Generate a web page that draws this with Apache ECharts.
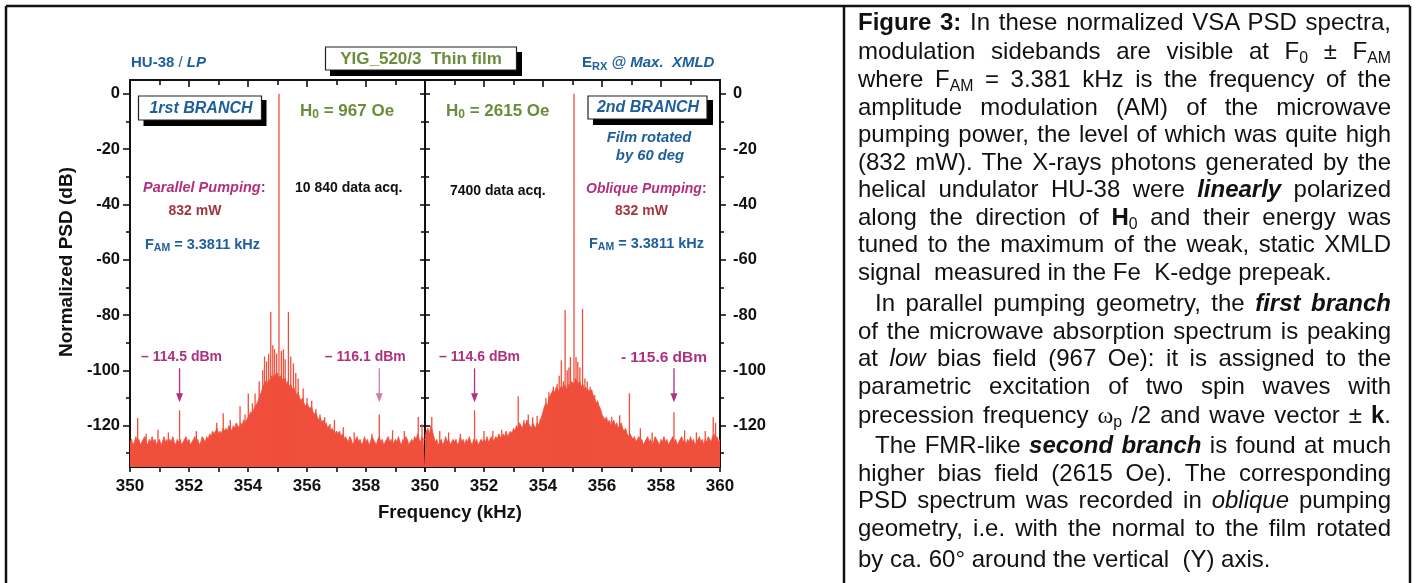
<!DOCTYPE html>
<html><head><meta charset="utf-8">
<script src="https://cdn.jsdelivr.net/npm/echarts@6/dist/echarts.min.js"></script>
<style>
html,body{margin:0;padding:0;background:#fff;}
#wrap{position:relative;width:1416px;height:583px;overflow:hidden;}
#chart{position:absolute;left:0;top:0;width:1416px;height:583px;}
#text{position:absolute;left:858px;top:0;width:533px;font-family:"Liberation Sans",Arial,Helvetica,sans-serif;font-size:24px;color:#111;}
.ln{position:absolute;left:0;width:533px;height:28px;line-height:28px;text-align:justify;text-align-last:justify;white-space:nowrap;}
.ln.last{text-align-last:left;}
.ln.ind{padding-left:17px;width:516px;}
.ln sub{font-size:0.66em;vertical-align:-0.28em;line-height:0;}
.om{font-family:"Liberation Serif","Times New Roman",serif;}
</style></head>
<body>
<div id="wrap">
<div id="chart"></div>
<div id="text">
<div class="ln" style="top:8px"><b>Figure 3:</b> In these normalized VSA PSD spectra,</div>
<div class="ln" style="top:37px">modulation sidebands are visible at F<sub>0</sub> ± F<sub>AM</sub></div>
<div class="ln" style="top:65px">where F<sub>AM</sub> = 3.381 kHz is the frequency of the</div>
<div class="ln" style="top:93px">amplitude modulation (AM) of the microwave</div>
<div class="ln" style="top:120px">pumping power, the level of which was quite high</div>
<div class="ln" style="top:148px">(832 mW). The X-rays photons generated by the</div>
<div class="ln" style="top:175px">helical undulator HU-38 were <b><i>linearly</i></b> polarized</div>
<div class="ln" style="top:203px">along the direction of <b>H</b><sub>0</sub> and their energy was</div>
<div class="ln" style="top:230px">tuned to the maximum of the weak, static XMLD</div>
<div class="ln last" style="top:258px">signal&nbsp; measured in the Fe&nbsp; K-edge prepeak.</div>
<div class="ln ind" style="top:289px">In parallel pumping geometry, the <b><i>first branch</i></b></div>
<div class="ln" style="top:317px">of the microwave absorption spectrum is peaking</div>
<div class="ln" style="top:344px">at <i>low</i> bias field (967 Oe): it is assigned to the</div>
<div class="ln" style="top:372px">parametric excitation of two spin waves with</div>
<div class="ln" style="top:401px">precession frequency <span class="om">ω</span><sub>p</sub> /2 and wave vector ± <b>k</b>.</div>
<div class="ln ind" style="top:431px">The FMR-like <b><i>second branch</i></b> is found at much</div>
<div class="ln" style="top:459px">higher bias field (2615 Oe). The corresponding</div>
<div class="ln" style="top:486px">PSD spectrum was recorded in <i>oblique</i> pumping</div>
<div class="ln" style="top:514px">geometry, i.e. with the normal to the film rotated</div>
<div class="ln last" style="top:545px">by ca. 60° around the vertical&nbsp; (Y) axis.</div>
</div>
</div>
<script>
// ---------------- DATA ----------------
const freqStart = 350;
const freqStep = 0.05;
// left panel (1st branch, H0 = 967 Oe): upper envelope of the noise / sideband cluster, dB
const leftLevels = [
 -126,-125,-127,-126,-124,-126,-125,-127,-126,-125,-124,-126,-127,-125,-126,-124,-126,-125,-127,-126,
 -125,-127,-126,-124,-126,-125,-127,-125,-126,-124,-126,-127,-125,-126,-125,-127,-126,-125,-124,-126,
 -125,-127,-126,-125,-124,-126,-125,-127,-126,-124,-125,-126,-124,-125,-123,-124,-122,-123,-122,-121,
 -123,-122,-123,-121,-122,-121,-122,-120,-121,-122,-120,-121,-119,-120,-121,-119,-120,-118,-119,-118,
 -117,-116,-115,-116,-114,-113,-112,-111,-109,-108,-106,-105,-104,-105,-103,-104,-102,-103,-101,-102,
 -101,-103,-102,-103,-104,-103,-105,-104,-106,-105,-107,-106,-108,-109,-108,-110,-111,-110,-112,-113,
 -112,-113,-114,-113,-115,-116,-115,-117,-118,-117,-119,-118,-120,-119,-121,-120,-122,-121,-122,-123,
 -122,-123,-122,-124,-123,-125,-124,-125,-126,-124,-125,-127,-126,-125,-124,-126,-125,-127,-126,-124,
 -126,-125,-127,-126,-124,-125,-126,-127,-125,-124,-126,-125,-127,-126,-125,-124,-126,-125,-127,-126,
 -125,-126,-124,-126,-127,-125,-126,-124,-125,-127,-126,-125,-126,-124,-125,-123,-125,-126,-124,-125,
 -125
];
// right panel (2nd branch, H0 = 2615 Oe)
const rightLevels = [
 -124,-122,-121,-123,-120,-122,-124,-126,-125,-127,-126,-125,-127,-126,-124,-126,-125,-127,-126,-125,
 -126,-125,-127,-126,-124,-126,-125,-127,-125,-126,-124,-126,-127,-125,-126,-125,-127,-126,-125,-126,
 -125,-126,-124,-126,-125,-124,-126,-125,-124,-125,-123,-124,-125,-123,-124,-122,-124,-123,-122,-123,
 -121,-122,-120,-121,-119,-120,-121,-119,-120,-118,-119,-120,-121,-119,-120,-121,-119,-120,-118,-117,
 -115,-113,-112,-113,-110,-109,-108,-107,-108,-106,-107,-108,-106,-107,-105,-106,-107,-105,-106,-104,
 -104,-105,-103,-104,-105,-104,-106,-105,-107,-106,-108,-107,-108,-107,-109,-110,-112,-111,-113,-114,
 -116,-117,-118,-117,-119,-118,-120,-119,-118,-120,-119,-121,-120,-119,-121,-122,-121,-123,-124,-123,
 -124,-125,-124,-126,-125,-124,-126,-125,-127,-126,-125,-124,-126,-125,-127,-126,-124,-125,-126,-127,
 -125,-126,-124,-126,-125,-127,-126,-125,-124,-126,-125,-127,-126,-125,-124,-126,-125,-127,-125,-126,
 -124,-126,-125,-127,-126,-125,-124,-126,-125,-127,-125,-126,-124,-125,-126,-124,-123,-125,-124,-126,
 -125
];
// discrete spectral lines [frequency kHz, level dB]
const leftSpikes = [
 [350.26,-117.3],[350.55,-123],[350.95,-121.5],[351.3,-122.5],[351.68,-114.5],[352.25,-122],
 [352.94,-119],[353.16,-115.6],[353.4,-118],
 [353.73,-113],[353.9,-116],[354.01,-108.4],[354.15,-112],[354.24,-108.4],[354.38,-104],
 [354.5,-100],[354.56,-95],[354.63,-96.8],[354.7,-94],[354.77,-78.9],[354.84,-91],[354.9,-92.4],
 [354.97,-94],[355.05,0],[355.13,-93],[355.2,-92.4],[355.26,-96],[355.37,-78.9],[355.45,-95],
 [355.54,-97.5],[355.62,-101],[355.7,-103],[355.87,-106.6],[356.0,-110],[356.16,-111],
 [356.3,-114],[356.44,-116],[356.6,-117],[356.78,-119.4],[356.93,-118],[357.23,-120.6],
 [357.6,-122.5],[358.2,-123],[358.45,-116],[358.9,-121.7],[359.3,-122],[359.77,-116.9],[359.9,-119.5]
];
const rightSpikes = [
 [350.23,-116.9],[350.5,-122],[350.8,-122.5],[351.2,-123],[351.68,-114.5],[352.0,-122],[352.3,-122],
 [352.6,-121.5],[353.16,-109.4],
 [353.35,-118],[353.5,-116],[353.65,-117],[353.8,-116.5],[354.1,-110],[354.2,-108],[354.35,-106],
 [354.48,-105],[354.55,-102],[354.62,-96.4],[354.69,-104],[354.75,-78.2],[354.82,-100],
 [354.88,-99],[354.93,-95.2],[355.05,0],[355.12,-95.2],[355.18,-97],[355.25,-99],[355.34,-77.8],
 [355.42,-103],[355.5,-104],[355.6,-106],[355.75,-109],[355.9,-113],[356.15,-117],[356.33,-116.8],
 [356.6,-116.3],[356.93,-108.3],[357.3,-121],[357.7,-122.5],[358.44,-115.2],[358.8,-121.8],
 [359.2,-122.5],[359.5,-122],[359.77,-117],[359.85,-119]
];
// sideband markers
const leftMarkerFreqs = [351.68, 358.45];
const leftMarkerLabels = ['– 114.5 dBm', '– 116.1 dBm'];
const rightMarkerFreqs = [351.68, 358.44];
const rightMarkerLabels = ['– 114.6 dBm', '- 115.6 dBm'];
// axes
const yTickValues = [0, -20, -40, -60, -80, -100, -120];
const yMinorValues = [-10, -30, -50, -70, -90, -110, -130];
const leftXLabels = [350, 352, 354, 356, 358];
const rightXLabels = [350, 352, 354, 356, 358, 360];
const yMin = -135, yMax = 5;

// ---------------- STYLE / BUILD ----------------
const RED = '#ef4f3b';
const AX = '#111';
const BLUE = '#1d5e9c';
const GREEN = '#6a8d3b';
const MAG = '#b0307f';
const DRED = '#a3363f';
const FONT = '"Liberation Sans", Arial, Helvetica, sans-serif';

const toPairs = arr => arr.map((v, i) => [+(freqStart + i * freqStep).toFixed(2), v]);

const chart = echarts.init(document.getElementById('chart'), null, {renderer: 'canvas'});

function xAx(grid, pos, labels) {
  const top = pos === 'top';
  return {
    type: 'value', gridIndex: grid, position: pos, min: 350, max: 360, interval: 2,
    axisLine: {show: true, onZero: false, lineStyle: {color: AX, width: 2}},
    axisTick: {show: true, inside: top, length: top ? 7 : 5, lineStyle: {color: AX, width: 1.6}},
    minorTick: {show: true, splitNumber: 2, length: 5, lineStyle: {color: AX, width: 1.6}},
    axisLabel: labels ? {show: true, customValues: labels, color: AX, fontSize: 17, fontWeight: 'bold', fontFamily: FONT, margin: 11} : {show: false},
    splitLine: {show: false}, minorSplitLine: {show: false}
  };
}
function yAx(grid, pos, inside, values, len, labels, margin) {
  return {
    type: 'value', gridIndex: grid, position: pos, min: yMin, max: yMax,
    axisLine: {show: true, onZero: false, lineStyle: {color: AX, width: 2}},
    axisTick: {show: true, inside: inside, length: len, customValues: values, lineStyle: {color: AX, width: 1.6}},
    axisLabel: labels ? {show: true, customValues: labels, color: AX, fontSize: 16.5, fontWeight: 'bold', fontFamily: FONT, margin: margin} : {show: false},
    splitLine: {show: false}
  };
}

function spikeRender(params, api) {
  const f = api.value(0);
  const p1 = api.coord([f, api.value(1)]);
  const p0 = api.coord([f, yMin]);
  return {type: 'line', shape: {x1: p0[0], y1: p0[1], x2: p1[0], y2: p1[1]},
    style: {stroke: RED, lineWidth: 1.3}};
}
function markerRender(labels, shifts, arrowColors, fontSizes) {
  return function (params, api) {
    const i = params.dataIndex;
    const f = api.value(0);
    const top = api.coord([f, -99.3]);
    const tip = api.coord([f, -111.6]);
    const c = arrowColors[i];
    return {type: 'group', children: [
      {type: 'line', shape: {x1: top[0], y1: top[1], x2: tip[0], y2: tip[1] - 6}, style: {stroke: c, lineWidth: 1.3}},
      {type: 'polygon', shape: {points: [[tip[0] - 3.5, tip[1] - 9], [tip[0] + 3.5, tip[1] - 9], [tip[0], tip[1]]]}, style: {fill: c}},
      {type: 'text', x: top[0] + shifts[i], y: top[1] - 11,
        style: {text: labels[i], fill: MAG, fontSize: fontSizes[i], fontWeight: 'bold', fontFamily: FONT, align: 'center', verticalAlign: 'middle'}}
    ]};
  };
}

const option = {
  animation: false,
  backgroundColor: '#fff',
  grid: [
    {left: 130, top: 80, width: 295, height: 387},
    {left: 425, top: 80, width: 295, height: 387}
  ],
  xAxis: [
    xAx(0, 'bottom', leftXLabels), xAx(0, 'top', null),
    xAx(1, 'bottom', rightXLabels), xAx(1, 'top', null)
  ],
  yAxis: [
    yAx(0, 'left', false, yTickValues, 7, yTickValues, 10),
    yAx(0, 'left', false, yMinorValues, 4, null),
    yAx(0, 'right', true, yTickValues, 5, null),
    yAx(0, 'right', true, yMinorValues, 4, null),
    yAx(1, 'left', true, yTickValues, 5, null),
    yAx(1, 'left', true, yMinorValues, 4, null),
    yAx(1, 'right', false, yTickValues, 6, yTickValues, 13),
    yAx(1, 'right', false, yMinorValues, 4, null)
  ],
  series: [
    {type: 'line', xAxisIndex: 0, yAxisIndex: 0, data: toPairs(leftLevels), showSymbol: false, silent: true,
      lineStyle: {color: RED, width: 0.8}, areaStyle: {color: RED, opacity: 1, origin: 'start'}, z: 2},
    {type: 'line', xAxisIndex: 2, yAxisIndex: 4, data: toPairs(rightLevels), showSymbol: false, silent: true,
      lineStyle: {color: RED, width: 0.8}, areaStyle: {color: RED, opacity: 1, origin: 'start'}, z: 2},
    {type: 'custom', xAxisIndex: 0, yAxisIndex: 0, data: leftSpikes, renderItem: spikeRender, clip: true, silent: true, z: 3},
    {type: 'custom', xAxisIndex: 2, yAxisIndex: 4, data: rightSpikes, renderItem: spikeRender, clip: true, silent: true, z: 3},
    {type: 'custom', xAxisIndex: 0, yAxisIndex: 0, data: leftMarkerFreqs.map(f => [f]), silent: true, z: 5,
      renderItem: markerRender(leftMarkerLabels, [2, -14], [MAG, '#d17ab0'], [14, 14])},
    {type: 'custom', xAxisIndex: 2, yAxisIndex: 4, data: rightMarkerFreqs.map(f => [f]), silent: true, z: 5,
      renderItem: markerRender(rightMarkerLabels, [5, -10], [MAG, MAG], [14, 15.5])}
  ],
  graphic: [
    // frame
    {type: 'line', shape: {x1: 6, y1: 6, x2: 1410, y2: 6}, style: {stroke: AX, lineWidth: 2.5}, z: 100},
    {type: 'line', shape: {x1: 6, y1: 6, x2: 6, y2: 583}, style: {stroke: AX, lineWidth: 2.5}, z: 100},
    {type: 'line', shape: {x1: 844, y1: 6, x2: 844, y2: 583}, style: {stroke: AX, lineWidth: 2.5}, z: 100},
    {type: 'line', shape: {x1: 1410, y1: 6, x2: 1410, y2: 583}, style: {stroke: AX, lineWidth: 2.5}, z: 100},
    // boxes with shadows
    {type: 'rect', shape: {x: 330, y: 52, width: 192, height: 24}, style: {fill: '#000'}, z: 100},
    {type: 'rect', shape: {x: 325.5, y: 47, width: 191, height: 23}, style: {fill: '#fff', stroke: '#222', lineWidth: 1.2}, z: 101},
    {type: 'text', x: 421, y: 59, style: {text: 'YIG_520/3  Thin film', fill: GREEN, fontSize: 17, fontWeight: 'bold', fontFamily: FONT, align: 'center', verticalAlign: 'middle'}, z: 102},
    {type: 'rect', shape: {x: 143.5, y: 100, width: 123, height: 26}, style: {fill: '#000'}, z: 100},
    {type: 'rect', shape: {x: 138.5, y: 96, width: 123, height: 24}, style: {fill: '#fff', stroke: '#222', lineWidth: 1.2}, z: 101},
    {type: 'text', x: 201, y: 108.5, style: {text: '1rst BRANCH', fill: BLUE, fontSize: 16, fontWeight: 'bold', fontStyle: 'italic', fontFamily: FONT, align: 'center', verticalAlign: 'middle'}, z: 102},
    {type: 'rect', shape: {x: 593, y: 100, width: 120, height: 25}, style: {fill: '#000'}, z: 100},
    {type: 'rect', shape: {x: 588, y: 96, width: 119, height: 23}, style: {fill: '#fff', stroke: '#222', lineWidth: 1.2}, z: 101},
    {type: 'text', x: 648, y: 107.5, style: {text: '2nd BRANCH', fill: BLUE, fontSize: 16, fontWeight: 'bold', fontStyle: 'italic', fontFamily: FONT, align: 'center', verticalAlign: 'middle'}, z: 102},
    // headers
    {type: 'text', x: 131, y: 63, z: 102, style: {text: '{b|HU-38 }{n|/ }{bi|LP}', fill: BLUE, align: 'left', verticalAlign: 'middle',
      rich: {b: {fontSize: 15, fontWeight: 'bold', fontFamily: FONT, fill: BLUE}, n: {fontSize: 15, fontFamily: FONT, fill: BLUE}, bi: {fontSize: 15, fontWeight: 'bold', fontStyle: 'italic', fontFamily: FONT, fill: BLUE}}}},
    {type: 'text', x: 582, y: 63, z: 102, style: {text: '{b|E}{s|RX}{bi| @ Max.  XMLD}', fill: BLUE, align: 'left', verticalAlign: 'middle',
      rich: {b: {fontSize: 15, fontWeight: 'bold', fontFamily: FONT, fill: BLUE, lineHeight: 18}, s: {fontSize: 11, fontWeight: 'bold', fontFamily: FONT, fill: BLUE, lineHeight: 8, verticalAlign: 'bottom'}, bi: {fontSize: 15, fontWeight: 'bold', fontStyle: 'italic', fontFamily: FONT, fill: BLUE, lineHeight: 18}}}},
    // H0 labels
    {type: 'text', x: 300, y: 111, z: 102, style: {text: '{m|H}{s|0}{m| = 967 Oe}', align: 'left', verticalAlign: 'middle',
      rich: {m: {fontSize: 17, fontWeight: 'bold', fontFamily: FONT, fill: GREEN, lineHeight: 20}, s: {fontSize: 12, fontWeight: 'bold', fontFamily: FONT, fill: GREEN, lineHeight: 8, verticalAlign: 'bottom'}}}},
    {type: 'text', x: 446, y: 111, z: 102, style: {text: '{m|H}{s|0}{m| = 2615 Oe}', align: 'left', verticalAlign: 'middle',
      rich: {m: {fontSize: 17, fontWeight: 'bold', fontFamily: FONT, fill: GREEN, lineHeight: 20}, s: {fontSize: 12, fontWeight: 'bold', fontFamily: FONT, fill: GREEN, lineHeight: 8, verticalAlign: 'bottom'}}}},
    // acquisitions
    {type: 'text', x: 295, y: 188, z: 102, style: {text: '10 840 data acq.', fill: AX, fontSize: 14, fontWeight: 'bold', fontFamily: FONT, align: 'left', verticalAlign: 'middle'}},
    {type: 'text', x: 450, y: 191, z: 102, style: {text: '7400 data acq.', fill: AX, fontSize: 14, fontWeight: 'bold', fontFamily: FONT, align: 'left', verticalAlign: 'middle'}},
    // pumping
    {type: 'text', x: 143, y: 188, z: 102, style: {text: '{i|Parallel Pumping}{n|:}', align: 'left', verticalAlign: 'middle',
      rich: {i: {fontSize: 14.5, fontWeight: 'bold', fontStyle: 'italic', fontFamily: FONT, fill: MAG}, n: {fontSize: 14.5, fontWeight: 'bold', fontFamily: FONT, fill: MAG}}}},
    {type: 'text', x: 195, y: 211, z: 102, style: {text: '832 mW', fill: DRED, fontSize: 14, fontWeight: 'bold', fontFamily: FONT, align: 'center', verticalAlign: 'middle'}},
    {type: 'text', x: 145, y: 245, z: 102, style: {text: '{m|F}{s|AM}{m| = 3.3811 kHz}', align: 'left', verticalAlign: 'middle',
      rich: {m: {fontSize: 14.5, fontWeight: 'bold', fontFamily: FONT, fill: BLUE, lineHeight: 18}, s: {fontSize: 10.5, fontWeight: 'bold', fontFamily: FONT, fill: BLUE, lineHeight: 7, verticalAlign: 'bottom'}}}},
    {type: 'text', x: 649, y: 138, z: 102, style: {text: 'Film rotated', fill: BLUE, fontSize: 14.8, fontWeight: 'bold', fontStyle: 'italic', fontFamily: FONT, align: 'center', verticalAlign: 'middle'}},
    {type: 'text', x: 650, y: 156, z: 102, style: {text: 'by 60 deg', fill: BLUE, fontSize: 14.8, fontWeight: 'bold', fontStyle: 'italic', fontFamily: FONT, align: 'center', verticalAlign: 'middle'}},
    {type: 'text', x: 586, y: 189, z: 102, style: {text: '{i|Oblique Pumping}{n|:}', align: 'left', verticalAlign: 'middle',
      rich: {i: {fontSize: 14, fontWeight: 'bold', fontStyle: 'italic', fontFamily: FONT, fill: MAG}, n: {fontSize: 14, fontWeight: 'bold', fontFamily: FONT, fill: MAG}}}},
    {type: 'text', x: 641.5, y: 211, z: 102, style: {text: '832 mW', fill: DRED, fontSize: 14, fontWeight: 'bold', fontFamily: FONT, align: 'center', verticalAlign: 'middle'}},
    {type: 'text', x: 589, y: 244, z: 102, style: {text: '{m|F}{s|AM}{m| = 3.3811 kHz}', align: 'left', verticalAlign: 'middle',
      rich: {m: {fontSize: 14.5, fontWeight: 'bold', fontFamily: FONT, fill: BLUE, lineHeight: 18}, s: {fontSize: 10.5, fontWeight: 'bold', fontFamily: FONT, fill: BLUE, lineHeight: 7, verticalAlign: 'bottom'}}}},
    // axis titles
    {type: 'text', x: 67, y: 262, rotation: Math.PI / 2, z: 102, style: {text: 'Normalized PSD (dB)', fill: AX, fontSize: 19, fontWeight: 'bold', fontFamily: FONT, align: 'center', verticalAlign: 'middle'}},
    {type: 'text', x: 450, y: 513, z: 102, style: {text: 'Frequency (kHz)', fill: AX, fontSize: 18.5, fontWeight: 'bold', fontFamily: FONT, align: 'center', verticalAlign: 'middle'}}
  ]
};
chart.setOption(option);
</script>
</body></html>
